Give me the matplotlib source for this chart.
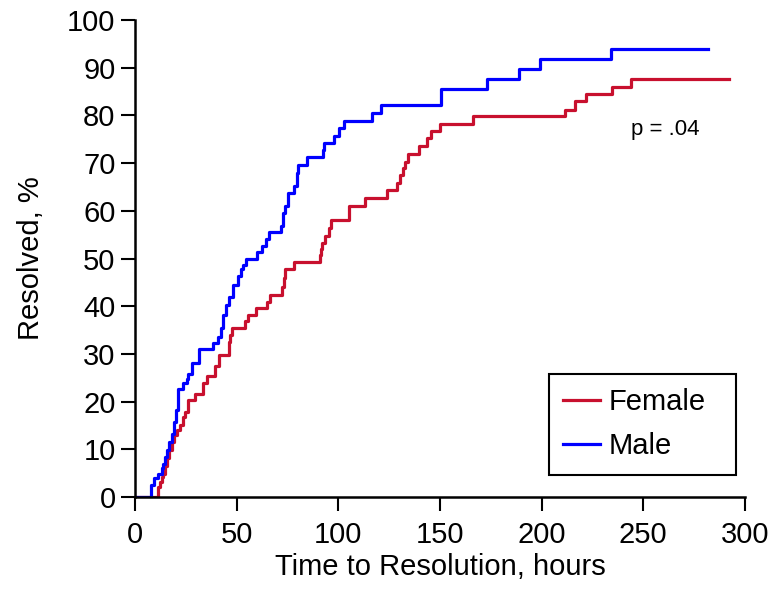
import matplotlib
matplotlib.use("Agg")
import matplotlib.pyplot as plt

plt.rcParams['font.family'] = ['Liberation Sans', 'DejaVu Sans']

# cumulative % resolved, step times in hours (last entry = end of follow-up)
male_t = [0, 7.7, 9.4, 11.5, 13.1, 13.9, 14.8, 15.6, 16.9, 18.0, 19.2, 20.2, 21.3,
          23.8, 25.4, 26.3, 27.9, 31.6, 38.5, 41.0, 42.4, 43.5, 44.8, 46.4, 48.1,
          50.5, 52.0, 53.2, 54.7, 59.9, 62.4, 64.5, 66.1, 71.7, 72.7, 73.9, 75.5,
          78.0, 79.6, 80.4, 84.5, 92.4, 93.0, 97.7, 100.1, 103.0, 116.6, 121.2,
          150.5, 173.0, 189.0, 199.0, 234.0, 282.0]
male_p = [0, 2.5, 3.9, 4.9, 6.0, 7.0, 8.4, 9.9, 11.6, 13.3, 15.8, 18.2, 22.6,
          23.8, 24.8, 25.8, 28.0, 31.0, 32.2, 33.6, 35.4, 38.2, 40.3, 42.0, 44.4,
          46.4, 47.8, 48.6, 50.0, 51.3, 52.6, 54.0, 55.5, 56.8, 59.5, 61.0, 63.7,
          65.2, 67.9, 69.6, 71.2, 72.7, 74.3, 75.6, 77.3, 78.9, 80.6, 82.2,
          85.6, 87.6, 89.7, 91.8, 93.9, 93.9]

female_t = [0, 11.5, 12.2, 13.1, 13.9, 14.8, 15.9, 16.9, 18.0, 19.2, 20.5, 22.2,
            23.5, 24.6, 26.3, 29.6, 33.3, 35.3, 39.5, 41.5, 46.0, 46.8, 47.6,
            54.2, 55.8, 59.6, 64.9, 66.5, 72.5, 73.3, 73.9, 78.0, 91.1, 91.6,
            91.9, 93.6, 95.2, 96.4, 105.1, 113.3, 124.0, 128.9, 130.3, 131.6,
            133.0, 134.5, 139.5, 143.7, 145.5, 150.0, 166.4, 211.3, 216.5, 222.0,
            234.7, 243.8, 292.0]
female_p = [0, 2.1, 3.2, 4.2, 4.9, 6.4, 8.1, 9.9, 11.6, 13.0, 14.0, 15.1,
            16.8, 17.9, 20.3, 21.7, 23.8, 25.4, 27.5, 29.8, 32.6, 34.0, 35.4,
            36.8, 38.2, 39.6, 40.9, 42.3, 44.0, 46.0, 47.9, 49.3, 50.7, 52.0,
            53.2, 54.7, 56.3, 58.1, 61.1, 62.7, 64.3, 65.8, 67.5, 69.0,
            70.3, 72.0, 73.5, 75.2, 76.7, 78.1, 79.8, 81.2, 83.0, 84.5,
            86.0, 87.7, 87.7]

fig = plt.figure(figsize=(7.83, 5.90), dpi=100)
ax = fig.add_axes([0.1724, 0.1576, 0.779, 0.8085])

ax.step(female_t, female_p, where='post', color='#C8102E', lw=2.3, label='Female')
ax.step(male_t, male_p, where='post', color='#0000FF', lw=2.3, label='Male')

ax.set_xlim(0, 300)
ax.set_ylim(0, 100)
ax.set_xticks(range(0, 301, 50))
ax.set_yticks(range(0, 101, 10))

ax.spines['top'].set_visible(False)
ax.spines['right'].set_visible(False)
for s in ['left', 'bottom']:
    ax.spines[s].set_linewidth(1.8)
ax.tick_params(direction='out', length=10, width=1.5, labelsize=21, pad=4)
ax.tick_params(axis='x', pad=7)

ax.set_xlabel('Time to Resolution, hours', fontsize=21, labelpad=3)
ax.set_ylabel('Resolved, %', fontsize=21, labelpad=16)

ax.text(261, 77, 'p = .04', fontsize=16, ha='center', va='center')

leg = ax.legend(loc='lower left', bbox_to_anchor=(0.678, 0.046, 0.307, 0.21),
                mode='expand', fontsize=21, frameon=True, fancybox=False,
                edgecolor='black', borderaxespad=0, borderpad=0.5,
                handlelength=1.25, handletextpad=0.3, labelspacing=0.55)
leg.get_frame().set_linewidth(1.5)
leg.get_frame().set_alpha(1)

fig.savefig('out.png', dpi=100)
